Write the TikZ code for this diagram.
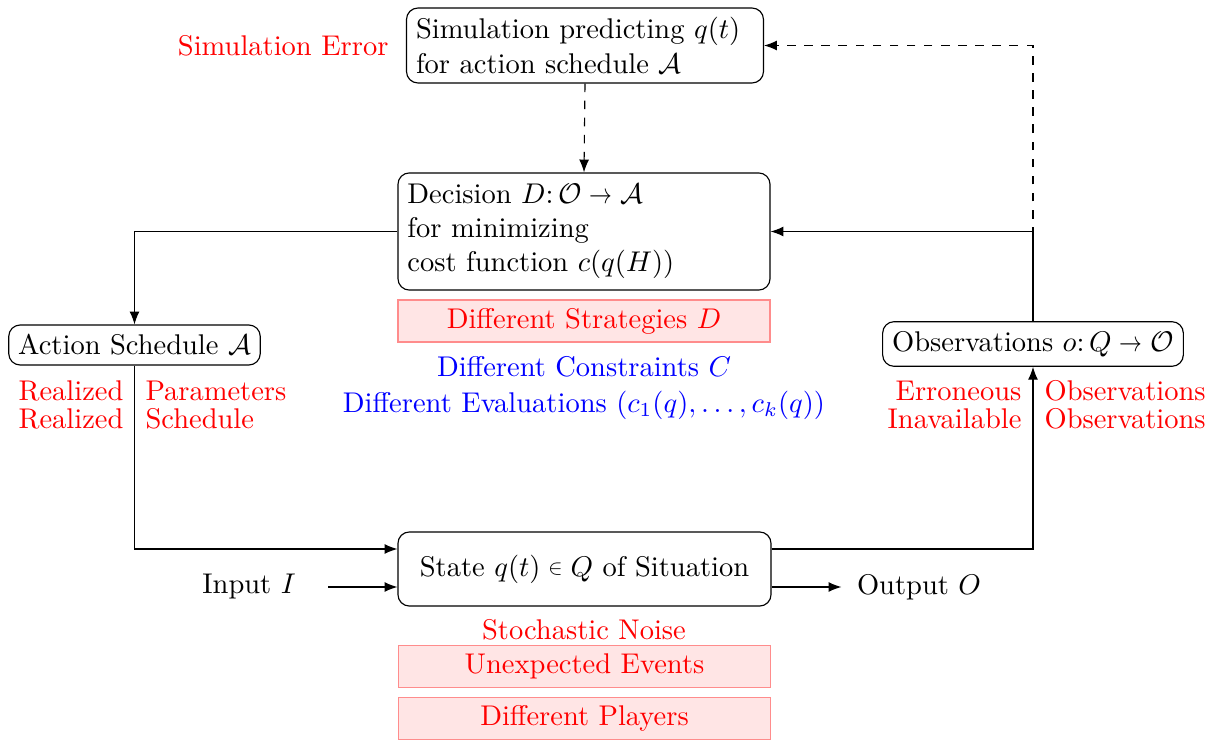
\documentclass[tikz,border=0pt]{standalone}
\usepackage{amsmath}
\usetikzlibrary{arrows.meta,calc}
\newcommand{\sto}{\mathrel{\scalebox{0.8}[1]{$\rightarrow$}}}
\newcommand{\smallin}{\mathrel{\raisebox{0.12ex}{\scalebox{0.75}{$\in$}}}}
\begin{document}
\begin{tikzpicture}[x=0.3509pt,y=-0.3509pt,
  box/.style={draw, rounded corners=4pt, inner sep=3.33pt},
  pinkbox/.style={draw=red!45, fill=red!10, text=red, minimum width=130.5pt, minimum height=14.7pt, inner sep=0pt},
  arr/.style={-{Latex[length=4.5pt,width=3.5pt]}},
  redlbl/.style={text=red, inner sep=0pt},
  bluelbl/.style={text=blue}]
\useasboundingbox (0,0) rectangle (1215,740);

\node[box, text width=118.6pt, minimum height=26.3pt, align=left] (sim) at (585,45.5)
  {Simulation predicting $q(t)$\\ for action schedule $\mathcal{A}$};
\node[redlbl, anchor=east] (simerr) at (389,46) {Simulation Error};

\node[box, text width=123.9pt, minimum height=41.1pt, align=left] (dec) at (584,231.5)
  {Decision $D{:}\,\mathcal{O}\sto\mathcal{A}$\\ for minimizing\\ cost function $c(q(H))$};
\node[pinkbox] (strat) at (584,321) {Different Strategies $D$};
\node[bluelbl] (constr) at (584,367) {Different Constraints $C$};
\node[bluelbl] (evals) at (584,405) {Different Evaluations $(c_1(q),\ldots,c_k(q))$};

\node[box] (act) at (134.5,345) {Action Schedule $\mathcal{A}$};
\node[redlbl, anchor=east] (realA) at (124,391) {Realized};
\node[redlbl, anchor=east] (realB) at (124,419) {Realized};
\node[redlbl, anchor=west] (param) at (145,391) {Parameters};
\node[redlbl, anchor=west] (sched) at (145,419) {Schedule};

\node[box] (obs) at (1033,344) {Observations $o{:}\,Q\sto\mathcal{O}$};
\node[redlbl, anchor=east] (err) at (1022,391) {Erroneous};
\node[redlbl, anchor=east] (inav) at (1022,419) {Inavailable};
\node[redlbl, anchor=west] (obsA) at (1044,391) {Observations};
\node[redlbl, anchor=west] (obsB) at (1044,419) {Observations};

\node[box, minimum width=130.9pt, minimum height=26pt] (st) at (584.5,569) {State $q(t)\smallin Q$ of Situation};
\node[inner xsep=11.2pt] (inp) at (249,587) {Input $I$};
\node[inner xsep=5.3pt] (out) at (919,587) {Output $O$};

\node[redlbl] (noise) at (584,630) {Stochastic Noise};
\node[pinkbox] (unexp) at (584.5,666.5) {Unexpected Events};
\node[pinkbox] (players) at (584.5,718.5) {Different Players};

\draw[arr, dashed] (sim.south) -- (dec.north);
\draw[arr, dashed] (obs.north) |- (sim.east);
\draw[arr] (dec.west) -| (act.north);
\draw[arr] (act.south) |- ($(st.west)+(0,-20)$);
\draw[arr] ($(st.east)+(0,-20)$) -| (obs.south);
\draw[arr] (obs.north) |- (dec.east);
\draw[arr] (inp.east) -- (inp.east -| st.west);
\draw[arr] (st.east |- out.west) -- (out.west);
\end{tikzpicture}
\end{document}
